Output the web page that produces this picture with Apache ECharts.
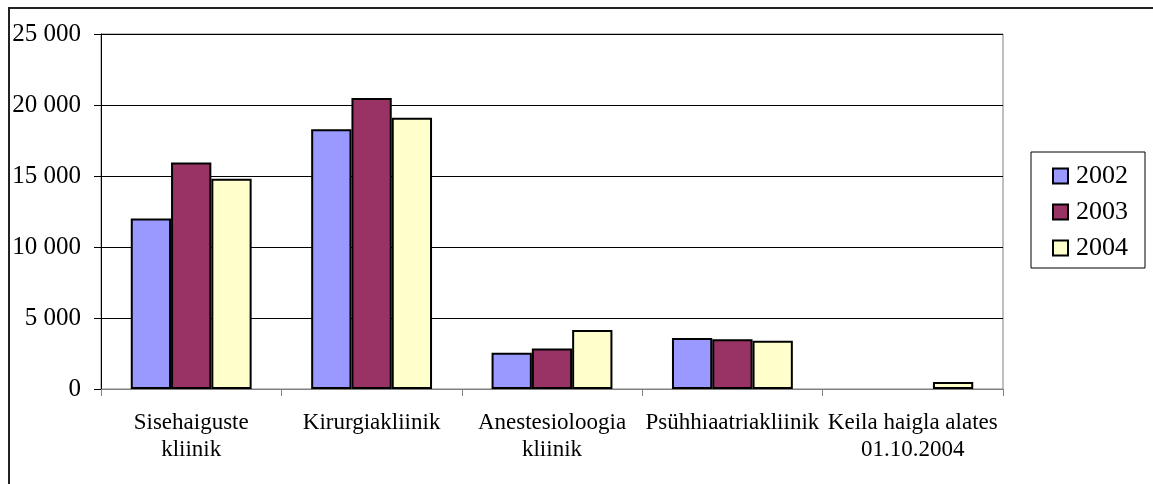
<!DOCTYPE html>
<html>
<head>
<meta charset="utf-8">
<script src="https://cdn.jsdelivr.net/npm/echarts@6/dist/echarts.min.js"></script>
<style>
html,body{margin:0;padding:0;background:#fff;}
#chart{width:1153px;height:484px;}
</style>
</head>
<body>
<div id="chart"></div>
<script>
const categories = ["Sisehaiguste\nkliinik", "Kirurgiakliinik", "Anestesioloogia\nkliinik", "Psühhiaatriakliinik", "Keila haigla alates\n01.10.2004"];
const seriesNames = ["2002", "2003", "2004"];
const values2002 = [12000, 18300, 2550, 3600, null];
const values2003 = [15950, 20500, 2850, 3500, null];
const values2004 = [14800, 19100, 4150, 3400, 500];
const yTicks = [0, 5000, 10000, 15000, 20000, 25000];

const colors = ["#9999FF", "#993366", "#FFFFCC"];
const font = "Liberation Serif";
const chart = echarts.init(document.getElementById('chart'), null, {renderer: 'canvas'});

function fmt(v) {
  return String(v).replace(/\B(?=(\d{3})+(?!\d))/g, ' ');
}

const data = [values2002, values2003, values2004];
chart.setOption({
  animation: false,
  backgroundColor: '#fff',
  graphic: [{
    type: 'rect',
    shape: {x: 9, y: 8, width: 1300, height: 600},
    style: {fill: 'none', stroke: '#222', lineWidth: 2},
    silent: true
  }],
  grid: {left: 101, right: 150, top: 34, bottom: 95, show: true, borderColor: '#808080', borderWidth: 1, backgroundColor: '#fff'},
  legend: {
    orient: 'vertical',
    left: 1031, top: 152,
    data: seriesNames,
    itemWidth: 15, itemHeight: 15,
    itemGap: 10,
    padding: [11, 17, 7, 21],
    borderColor: '#000', borderWidth: 1,
    icon: 'rect',
    textStyle: {fontFamily: font, fontSize: 26, color: '#000', lineHeight: 26, padding: [0,0,0,3]}
  },
  xAxis: {
    type: 'category',
    data: categories,
    axisLine: {lineStyle: {color: '#808080', width: 1}},
    axisTick: {show: true, length: 7, lineStyle: {color: '#808080'}},
    axisLabel: {fontFamily: font, fontSize: 23, color: '#000', lineHeight: 27, margin: 20, interval: 0}
  },
  yAxis: {
    type: 'value',
    min: yTicks[0], max: yTicks[yTicks.length - 1], interval: yTicks[1] - yTicks[0],
    axisLine: {show: true, lineStyle: {color: '#000', width: 1}},
    axisTick: {show: true, length: 7, lineStyle: {color: '#000'}},
    axisLabel: {fontFamily: font, fontSize: 25, color: '#000', margin: 20, formatter: fmt},
    splitLine: {show: true, lineStyle: {color: '#000', width: 1}}
  },
  series: seriesNames.map((n, i) => ({
    name: n,
    type: 'bar',
    data: data[i],
    barGap: '0%',
    barCategoryGap: '33%',
    itemStyle: {color: colors[i], borderColor: '#000', borderWidth: 2}
  }))
});
</script>
</body>
</html>
